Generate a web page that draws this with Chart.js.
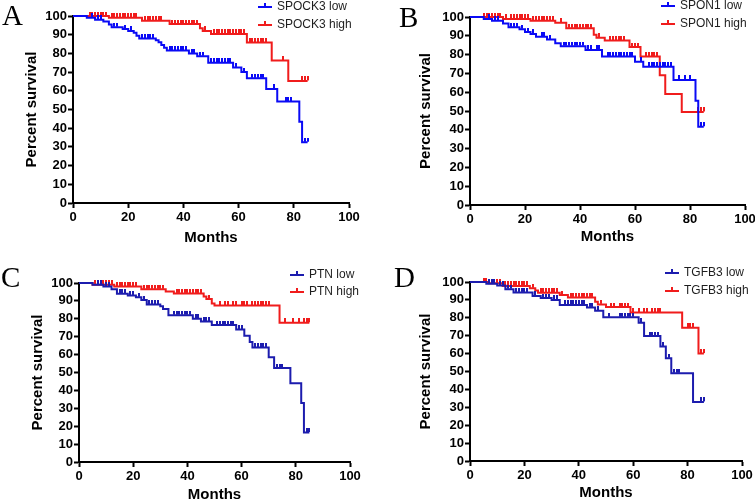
<!DOCTYPE html>
<html><head><meta charset="utf-8">
<script src="https://cdn.jsdelivr.net/npm/chart.js@4.4.1/dist/chart.umd.min.js"></script>
<style>
html,body{margin:0;padding:0;background:#fff;overflow:hidden;width:755px;height:501px;position:relative}
canvas{position:absolute}
</style>
</head><body>
<canvas id="cA" width="378" height="250" style="left:0;top:0"></canvas>
<canvas id="cB" width="390" height="250" style="left:378px;top:0"></canvas>
<canvas id="cC" width="378" height="254" style="left:0;top:250px"></canvas>
<canvas id="cD" width="390" height="254" style="left:378px;top:250px"></canvas>
<script>
// ---------- DATA ----------
const xTicks = [0, 20, 40, 60, 80, 100];
const yTicks = [0, 10, 20, 30, 40, 50, 60, 70, 80, 90, 100];

// Panel A: SPOCK3
const aNames = ['SPOCK3 low', 'SPOCK3 high'];
const aLowT  = [0, 5, 8, 11, 13, 14, 18, 20, 22, 23, 24, 30, 31, 32, 33, 34, 42, 45, 49, 58, 61, 63, 70, 74, 82, 83, 85];
const aLowS  = [100, 99, 98, 97, 95.5, 94, 93, 92, 91, 89.5, 88, 87, 86, 84.5, 83, 81.5, 80, 78.5, 75, 72.5, 70, 66.7, 61, 54.3, 43.5, 32.5, 32.5];
const aLowC  = [7, 9, 10, 15, 16, 19, 21, 25, 26, 27, 28, 29, 35, 36, 37, 38, 39, 40, 41, 43, 44, 46, 47, 50, 51, 52, 53, 54, 55, 56, 57, 59, 62, 65, 66, 67, 68, 69, 73, 77, 78, 79, 84, 85];
const aHighT = [0, 13, 25, 35, 46, 47, 50, 63, 72, 78, 85];
const aHighS = [100, 99, 97.5, 95.7, 93.5, 92, 90.4, 85.8, 76.2, 65.3, 65.3];
const aHighC = [6, 7, 8, 9, 10, 11, 12, 14, 15, 16, 17, 18, 19, 20, 21, 22, 23, 26, 27, 28, 29, 30, 31, 32, 36, 37, 38, 39, 40, 41, 42, 43, 44, 45, 48, 51, 52, 53, 54, 55, 56, 57, 58, 59, 60, 61, 62, 64, 65, 66, 67, 68, 69, 70, 76, 83, 84, 85];

// Panel B: SPON1
const bNames = ['SPON1 low', 'SPON1 high'];
const bLowT  = [0, 5, 8, 12, 14, 18, 20, 22, 24, 28, 31, 33, 42, 48, 60, 63, 74, 82, 83, 85];
const bLowS  = [100, 99, 98, 96.5, 94.5, 93.5, 92, 91, 89.5, 88, 86, 84.5, 82.5, 79, 76.2, 73.5, 66.5, 55.5, 41.6, 41.6];
const bLowC  = [7, 9, 10, 15, 16, 17, 19, 21, 23, 26, 27, 29, 34, 35, 36, 37, 38, 39, 40, 41, 43, 44, 46, 47, 50, 51, 52, 53, 54, 55, 56, 57, 58, 59, 62, 65, 66, 67, 68, 69, 70, 71, 72, 73, 76, 78, 80, 84, 85];
const bHighT = [0, 12, 22, 31, 35, 45, 46, 49, 58, 62, 69, 71, 77, 85];
const bHighS = [100, 99, 98, 97, 94, 90.5, 89, 87.5, 84, 79, 69, 59, 49.5, 49.5];
const bHighC = [5, 6, 7, 8, 9, 10, 11, 13, 15, 16, 17, 18, 19, 20, 21, 23, 24, 25, 26, 27, 28, 29, 30, 33, 36, 37, 38, 39, 40, 41, 42, 43, 44, 47, 51, 52, 53, 54, 55, 56, 59, 60, 61, 64, 65, 66, 67, 68, 83, 84, 85];

// Panel C: PTN
const cNames = ['PTN low', 'PTN high'];
const cLowT  = [0, 5, 9, 12, 14, 18, 21, 23, 25, 30, 31, 33, 42, 45, 49, 58, 61, 63, 64, 70, 72, 78, 82, 83, 85];
const cLowS  = [100, 99, 98, 96.5, 94, 93, 92, 90.5, 88, 87, 85.5, 82, 80, 78.5, 76.5, 74, 70.5, 67, 64, 58.5, 52.5, 44, 33, 16.5, 16.5];
const cLowC  = [7, 8, 10, 11, 15, 16, 17, 19, 20, 22, 24, 26, 27, 28, 29, 35, 36, 37, 38, 39, 40, 41, 43, 44, 46, 47, 48, 51, 52, 53, 54, 55, 56, 57, 59, 60, 65, 66, 67, 68, 69, 73, 74, 75, 84, 85];
const cHighT = [0, 5, 13, 23, 32, 35, 46, 47, 49, 50, 74, 85];
const cHighS = [100, 99, 98, 96.5, 95.2, 94.2, 92.4, 91, 88.6, 87.4, 77.8, 77.8];
const cHighC = [6, 7, 8, 9, 10, 11, 12, 14, 15, 16, 17, 18, 19, 20, 21, 24, 25, 26, 27, 28, 29, 30, 31, 36, 37, 38, 39, 40, 41, 42, 43, 44, 45, 48, 52, 54, 55, 57, 58, 60, 61, 62, 64, 65, 66, 67, 68, 69, 70, 76, 79, 81, 83, 84, 85];

// Panel D: TGFB3
const dNames = ['TGFB3 low', 'TGFB3 high'];
const dLowT  = [0, 6, 10, 13, 16, 23, 26, 30, 33, 43, 46, 49, 62, 64, 70, 72, 74, 82, 86];
const dLowS  = [100, 99, 98, 96, 94.2, 92.2, 91, 90, 87.2, 85.8, 84, 80.3, 77.3, 69.8, 63.9, 57.4, 49, 33, 33];
const dLowC  = [7, 8, 9, 11, 12, 14, 15, 17, 18, 19, 20, 21, 24, 27, 28, 29, 31, 32, 35, 36, 37, 38, 39, 40, 41, 42, 44, 45, 47, 51, 55, 56, 57, 58, 59, 60, 63, 66, 67, 68, 69, 71, 73, 75, 76, 77, 85, 86];
const dHighT = [0, 7, 12, 22, 24, 25, 33, 36, 46, 47, 50, 59, 78, 84, 86];
const dHighS = [100, 99.3, 97.8, 96.5, 95.2, 94, 92.7, 91.4, 89, 87.5, 86, 82.9, 74.5, 60, 60];
const dHighC = [5, 6, 8, 9, 10, 11, 13, 14, 15, 16, 17, 18, 19, 20, 21, 23, 26, 27, 28, 29, 30, 31, 32, 34, 37, 38, 39, 40, 41, 42, 43, 44, 45, 48, 52, 53, 55, 56, 57, 58, 60, 62, 64, 65, 67, 68, 69, 70, 80, 81, 82, 85, 86];

// ---------- RENDERING ----------
const FONT = "'Liberation Sans', Arial, Helvetica, sans-serif";
const SERIF = "'Liberation Serif', 'Times New Roman', serif";
const RED = '#f01c1c';

function stepData(T, S) { return T.map((t, i) => ({x: t, y: S[i]})); }
function censorData(T, S, C) {
  return C.map(t => { let v = S[0]; for (let i = 0; i < T.length; i++) { if (T[i] <= t) v = S[i]; } return {x: t, y: v}; });
}
function tickImg(color) {
  const c = document.createElement('canvas'); c.width = 2; c.height = 9;
  const g = c.getContext('2d'); g.fillStyle = color; g.fillRect(0, 0, 2, 4); return c;
}

const deco = {
  id: 'deco',
  afterDraw(chart, args, o) {
    const ctx = chart.ctx; ctx.save();
    ctx.fillStyle = '#000'; ctx.textBaseline = 'alphabetic'; ctx.textAlign = 'left';
    ctx.font = '29px ' + SERIF;
    ctx.fillText(o.letter, o.lx, o.ly);
    ctx.font = '12px ' + FONT; ctx.textBaseline = 'middle';
    o.items.forEach(it => {
      ctx.strokeStyle = it.color; ctx.lineWidth = 2;
      ctx.beginPath(); ctx.moveTo(o.gx, it.y); ctx.lineTo(o.gx + 14, it.y); ctx.stroke();
      ctx.beginPath(); ctx.moveTo(o.gx + 7, it.y); ctx.lineTo(o.gx + 7, it.y - 4); ctx.stroke();
      ctx.fillStyle = '#1e1e1e'; ctx.fillText(it.text, o.gx + 19, it.y);
    });
    ctx.restore();
  }
};

function makePanel(p) {
  const tickFont = {family: FONT, size: 13, weight: 'bold'};
  const titleFont = {family: FONT, size: 15, weight: 'bold'};
  const ds = [
    {data: stepData(p.lowT, p.lowS), showLine: true, stepped: 'before', borderColor: p.blue, borderWidth: 2, pointRadius: 0, clip: false},
    {data: censorData(p.lowT, p.lowS, p.lowC), showLine: false, pointStyle: tickImg(p.blue), pointRadius: 3, clip: false},
    {data: stepData(p.highT, p.highS), showLine: true, stepped: 'before', borderColor: RED, borderWidth: 2, pointRadius: 0, clip: false},
    {data: censorData(p.highT, p.highS, p.highC), showLine: false, pointStyle: tickImg(RED), pointRadius: 3, clip: false}
  ];
  new Chart(document.getElementById(p.id), {
    type: 'scatter',
    data: {datasets: ds},
    plugins: [deco],
    options: {
      responsive: false, animation: false, events: [],
      layout: {padding: p.pad},
      plugins: {
        legend: {display: false}, tooltip: {enabled: false},
        deco: {letter: p.letter, lx: p.lx, ly: p.ly, gx: p.gx,
               items: [{text: p.names[0], color: p.blue, y: p.ly1}, {text: p.names[1], color: RED, y: p.ly2}]}
      },
      scales: {
        x: {
          type: 'linear', min: 0, max: 100,
          afterBuildTicks: s => { s.ticks = xTicks.map(v => ({value: v})); },
          ticks: {color: '#000', font: tickFont, padding: 2, maxRotation: 0, autoSkip: false},
          grid: {display: true, drawOnChartArea: false, drawTicks: true, tickLength: 5, tickWidth: 2, tickColor: '#000'},
          border: {display: true, color: '#000', width: 2},
          title: {display: true, text: 'Months', color: '#000', font: titleFont, padding: {top: 0, bottom: p.xtPad}},
          afterFit: s => { s.height = p.xH; }
        },
        y: {
          type: 'linear', min: 0, max: 100,
          afterBuildTicks: s => { s.ticks = yTicks.map(v => ({value: v})); },
          ticks: {color: '#000', font: tickFont, padding: 1, autoSkip: false},
          grid: {display: true, drawOnChartArea: false, drawTicks: true, tickLength: 5, tickWidth: 2, tickColor: '#000'},
          border: {display: true, color: '#000', width: 2},
          title: {display: true, text: 'Percent survival', color: '#000', font: titleFont, padding: {top: p.ytPad, bottom: 0}},
          afterFit: s => { s.width = p.yW; }
        }
      }
    }
  });
}

makePanel({id: 'cA', names: aNames, blue: '#0a0af5', lowT: aLowT, lowS: aLowS, lowC: aLowC, highT: aHighT, highS: aHighS, highC: aHighC,
  pad: {left: 0, top: 16, right: 29, bottom: 0}, yW: 73, xH: 47, ytPad: 23, xtPad: 3,
  letter: 'A', lx: 2, ly: 25, gx: 258, ly1: 7, ly2: 25});
makePanel({id: 'cB', names: bNames, blue: '#0a0af5', lowT: bLowT, lowS: bLowS, lowC: bLowC, highT: bHighT, highS: bHighS, highC: bHighC,
  pad: {left: 0, top: 17, right: 23, bottom: 0}, yW: 92, xH: 45, ytPad: 39, xtPad: 4,
  letter: 'B', lx: 21, ly: 27, gx: 283, ly1: 6, ly2: 24});
makePanel({id: 'cC', names: cNames, blue: '#1c1cae', lowT: cLowT, lowS: cLowS, lowC: cLowC, highT: cHighT, highS: cHighS, highC: cHighC,
  pad: {left: 0, top: 33, right: 28, bottom: 0}, yW: 79, xH: 42, ytPad: 29, xtPad: 0,
  letter: 'C', lx: 1, ly: 37, gx: 290, ly1: 25, ly2: 42});
makePanel({id: 'cD', names: dNames, blue: '#1c1cae', lowT: dLowT, lowS: dLowS, lowC: dLowC, highT: dHighT, highS: dHighS, highC: dHighC,
  pad: {left: 0, top: 32, right: 26, bottom: 0}, yW: 92, xH: 43, ytPad: 39, xtPad: 2,
  letter: 'D', lx: 16, ly: 37, gx: 287, ly1: 23, ly2: 41});
</script>
</body></html>
